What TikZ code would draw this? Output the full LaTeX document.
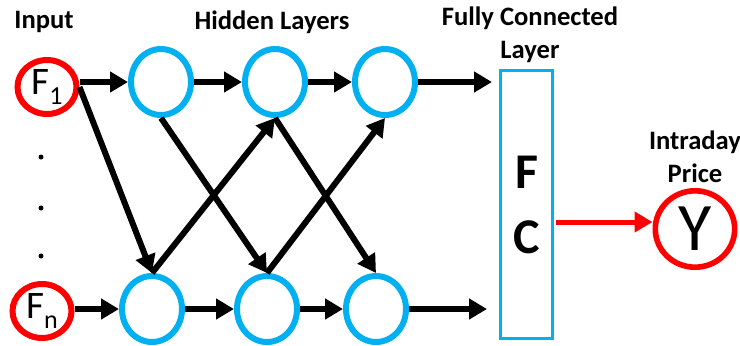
\documentclass[tikz,border=0pt]{standalone}
\usepackage{fontspec}
\setmainfont{Carlito}
\usetikzlibrary{arrows.meta,shapes.geometric}
\definecolor{InRed}{RGB}{255,0,0}
\definecolor{LayerBlue}{RGB}{0,176,240}
\tikzset{
  inp/.style={ellipse,draw=InRed,line width=3pt,minimum width=29.5pt,minimum height=27pt,inner sep=0pt,font=\fontsize{19.5}{20}\selectfont},
  hid/.style={ellipse,draw=LayerBlue,line width=3pt,minimum width=30pt,minimum height=33pt,inner sep=0pt},
  fcbox/.style={draw=LayerBlue,line width=1.5pt,minimum width=26pt,minimum height=134pt,inner sep=0pt,align=center,font=\bfseries\fontsize{25}{32.5}\selectfont},
  outnode/.style={ellipse,draw=InRed,line width=2.8pt,minimum width=39.7pt,minimum height=38.2pt,inner sep=0pt,font=\fontsize{34}{34}\selectfont},
  arr/.style={-{Triangle[length=9pt,width=10pt]},line width=3pt},
  redarr/.style={-{Triangle[length=9pt,width=10pt]},line width=2.5pt,draw=InRed},
  lbl/.style={font=\bfseries\fontsize{13.3}{16.5}\selectfont,align=center}
}
\newcommand{\feat}[1]{F\raisebox{-5pt}{\fontsize{13}{13}\selectfont #1}}
\begin{document}
\begin{tikzpicture}[x=0.5pt,y=-0.5pt]
  \useasboundingbox (0,0) rectangle (740,345);
  \node[lbl] (inlbl) at (44,22) {Input};
  \node[lbl] (hidlbl) at (272,22) {Hidden Layers};
  \node[lbl] (fclbl) at (530,35) {Fully Connected\\Layer};
  \node[lbl] (outlbl) at (695,157) {Intraday\\Price};
  \node[inp] (in1) at (47,87) {\feat{1}};
  \node[inp] (inn) at (42,311) {\feat{n}};
  \foreach \y in {157,208,256} \fill (41,\y) circle (1.25pt);
  \node[hid] (h11) at (161,82) {};
  \node[hid] (h12) at (275,82) {};
  \node[hid] (h13) at (385,82) {};
  \node[hid] (h21) at (152,309) {};
  \node[hid] (h22) at (267,309) {};
  \node[hid] (h23) at (376,309) {};
  \node[fcbox] (fc) at (526.5,204.5) {F\\C};
  \node[outnode] (out) at (695,229) {Y};
  \coordinate (fcin1) at (492,80);
  \coordinate (fcin2) at (487,310);
  \coordinate (fcout) at (556,222);
  \draw[arr] (in1.east |- h11.west) -- (h11.west);
  \draw[arr] (h11.east) -- (h12.west);
  \draw[arr] (h12.east) -- (h13.west);
  \draw[arr] (h13.east) -- (h13.east -| fcin1);
  \draw[arr] (inn.east |- h21.west) -- (h21.west);
  \draw[arr] (h21.east) -- (h22.west);
  \draw[arr] (h22.east) -- (h23.west);
  \draw[arr] (h23.east) -- (h23.east -| fcin2);
  \draw[arr] (in1.east) -- (h21.north);
  \draw[arr] (h11.south) -- (h22.north);
  \draw[arr] (h12.south) -- (h23.north);
  \draw[arr] (h21.north) -- (h12.south);
  \draw[arr] (h22.north) -- (h13.south);
  \draw[redarr] (fcout) -- (fcout -| out.west);
\end{tikzpicture}
\end{document}
